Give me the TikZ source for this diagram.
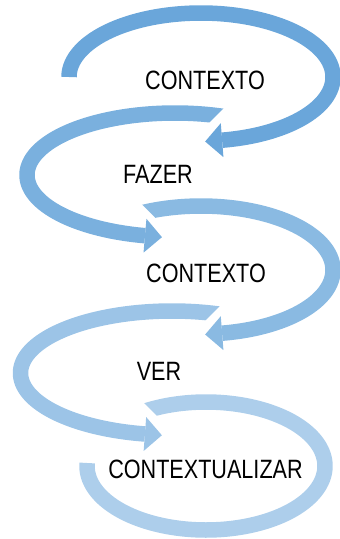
\documentclass[tikz,border=0pt]{standalone}
\usepackage{fontspec}
\setmainfont{Liberation Sans}
\usepackage{graphicx}

\definecolor{loopA}{HTML}{6AA6DA}
\definecolor{loopB}{HTML}{7AB0DE}
\definecolor{loopC}{HTML}{8ABAE2}
\definecolor{loopD}{HTML}{9CC4E7}
\definecolor{loopE}{HTML}{ADCEEB}

% Arrow head at parameter t of the ellipse (cx,cy,rx,ry); sign gives the running direction
\newcommand\headtip[7]{%
  \pgfmathsetmacro\hEx{#1+#3*cos(#5)}%
  \pgfmathsetmacro\hEy{#2+#4*sin(#5)}%
  \pgfmathsetmacro\hDx{(-1)*(#6)*#3*sin(#5)}%
  \pgfmathsetmacro\hDy{(#6)*#4*cos(#5)}%
  \pgfmathsetmacro\hL{veclen(\hDx,\hDy)}%
  \pgfmathsetmacro\hUx{\hDx/\hL}%
  \pgfmathsetmacro\hUy{\hDy/\hL}%
  \fill[#7] ({\hEx-17*\hUy},{\hEy+17*\hUx}) -- ({\hEx+17*\hUx},{\hEy+17*\hUy})
            -- ({\hEx+17*\hUy},{\hEy-17*\hUx}) -- cycle;}

\tikzset{
  band/.style={line width=15.5pt, line cap=butt, line join=round},
  gapcut/.style={fill=white},
  word/.style={font=\fontsize{26.5}{30}\selectfont, anchor=base, inner sep=0pt, text=black}
}

\begin{document}
\begin{tikzpicture}[x=1pt, y=-1pt]
  \useasboundingbox (0,0) rectangle (340,539);

  % fifth loop (no head)
  \draw[band, loopE] plot[variable=\t, domain=-123.7:182.7, samples=150]
    ({206+119*cos(\t)}, {466+64*sin(\t)});
  \fill[gapcut] (120,379) -- (175,434) -- (120,434) -- cycle;

  % fourth loop
  \draw[band, loopD] plot[variable=\t, domain=-259.7:-68.3, samples=120]
    ({172+151.5*cos(\t)}, {373+62*sin(\t)});
  \headtip{172}{373}{151.5}{62}{-259.7}{-1}{loopD}
  \fill[gapcut] (195,331) -- (240,286) -- (250,286) -- (250,331) -- cycle;

  % third loop
  \draw[band, loopC] plot[variable=\t, domain=-117.5:80.8, samples=120]
    ({201+132*cos(\t)}, {270+64*sin(\t)});
  \headtip{201}{270}{132}{64}{80.8}{1}{loopC}
  \fill[gapcut] (120,182.5) -- (175,237.5) -- (120,237.5) -- cycle;

  % second loop
  \draw[band, loopB] plot[variable=\t, domain=-258.3:-69, samples=120]
    ({175+148*cos(\t)}, {175+62*sin(\t)});
  \headtip{175}{175}{148}{62}{-258.3}{-1}{loopB}
  \fill[gapcut] (195,137) -- (240,92) -- (250,92) -- (250,137) -- cycle;

  % first loop
  \draw[band, loopA] plot[variable=\t, domain=180:440.8, samples=150]
    ({201+132*cos(\t)}, {77+64*sin(\t)});
  \headtip{201}{77}{132}{64}{440.8}{1}{loopA}

  % labels
  \node[word] (ctx1) at (205,89)    {\scalebox{0.815}[1]{CONTEXTO}};
  \node[word] (fazer) at (158,183)  {\scalebox{0.815}[1]{FAZER}};
  \node[word] (ctx2) at (206,282)   {\scalebox{0.815}[1]{CONTEXTO}};
  \node[word] (ver) at (159,380)    {\scalebox{0.815}[1]{VER}};
  \node[word] (ctxz) at (205.5,478) {\scalebox{0.815}[1]{CONTEXTUALIZAR}};
\end{tikzpicture}
\end{document}
